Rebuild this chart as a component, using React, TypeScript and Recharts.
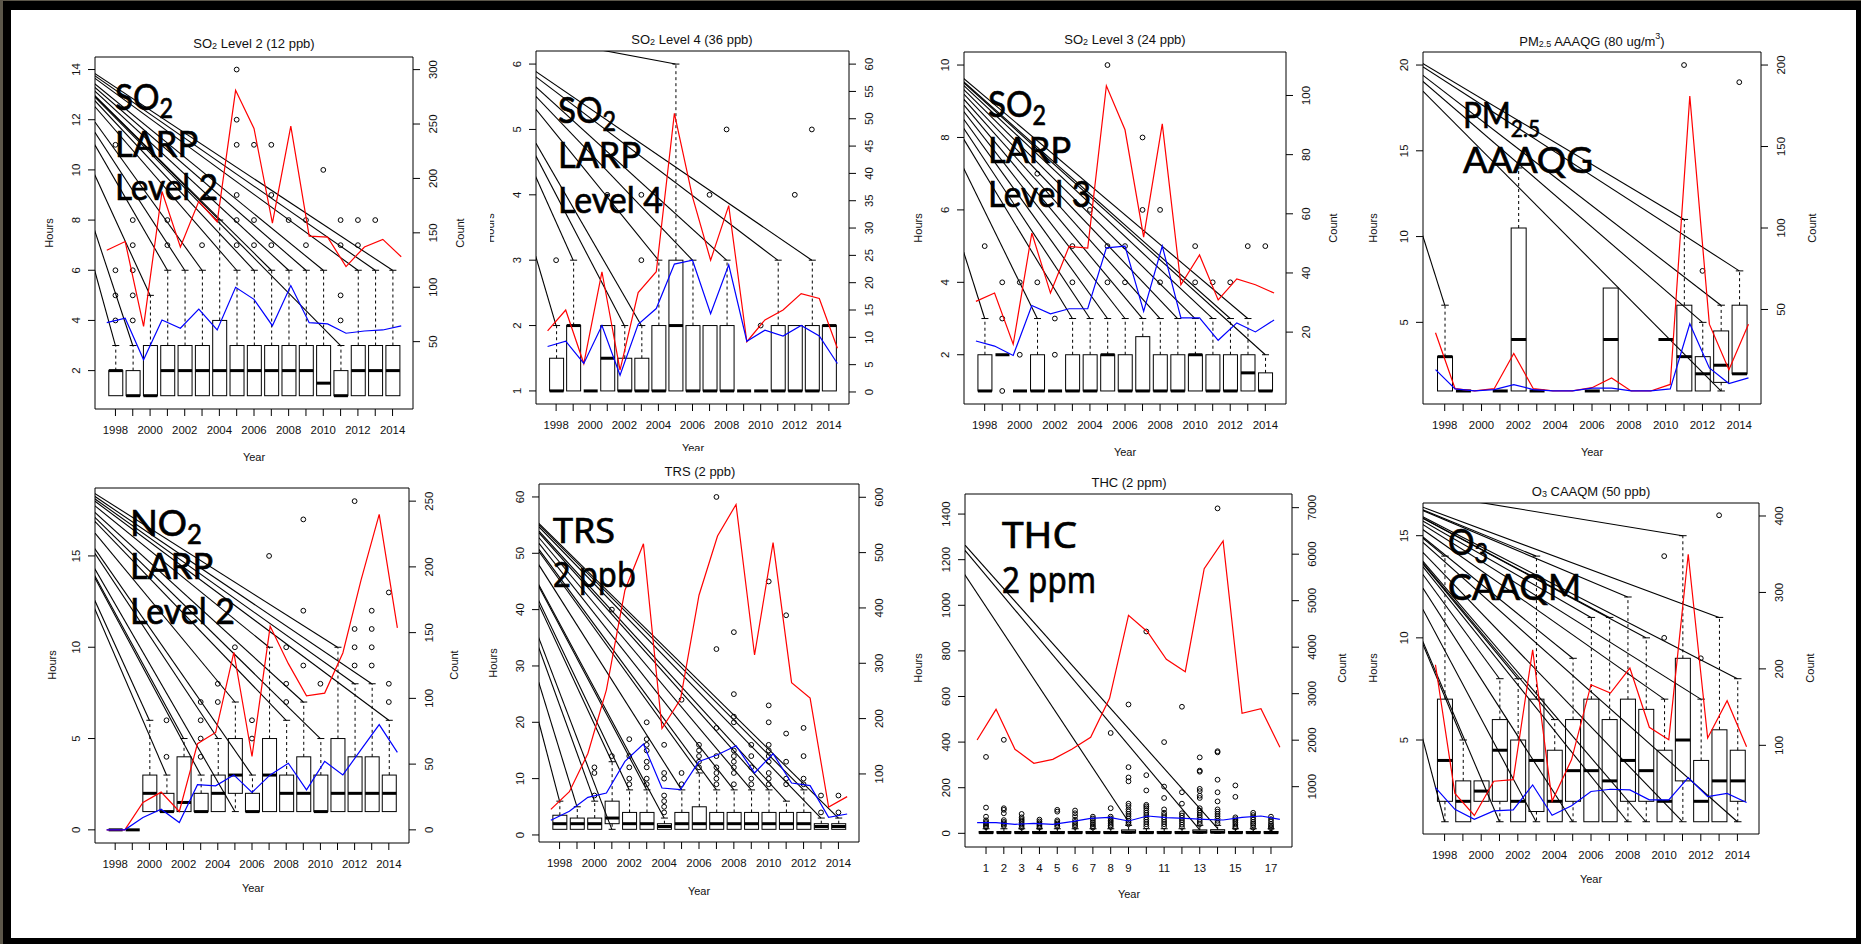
import React from "react";
import { ComposedChart, Bar, Scatter, XAxis, YAxis, ReferenceLine, ReferenceArea } from "recharts";

// ---- shared categories ----
const years = [1998, 1999, 2000, 2001, 2002, 2003, 2004, 2005, 2006, 2007, 2008, 2009, 2010, 2011, 2012, 2013, 2014];
const yearLabels = [1998, 2000, 2002, 2004, 2006, 2008, 2010, 2012, 2014];
const thcSlots = [1, 2, 3, 4, 5, 6, 7, 8, 9, 10, 11, 12, 13, 14, 15, 16, 17];
const thcLabels = [1, 2, 3, 4, 5, 6, 7, 8, 9, 11, 13, 15, 17];
const lineSlots = [1, 2, 3, 4, 5, 6, 7, 8, 9, 10, 11, 12, 13, 14, 15, 16, 17];

// box = [low whisker, q1, median, q3, high whisker]
// ---- SO2 Level 2 ----
const so2l2Box = [[1, 1, 2, 2, 3], [1, 1, 1, 2, 3], [1, 1, 1, 3, 5], [1, 1, 2, 3, 6], [1, 1, 2, 3, 6], [1, 1, 2, 3, 6], [1, 1, 2, 4, 8], [1, 1, 2, 3, 6], [1, 1, 2, 3, 6], [1, 1, 2, 3, 6], [1, 1, 2, 3, 6], [1, 1, 2, 3, 6], [1, 1, 1.5, 3, 6], [1, 1, 1, 2, 3], [1, 1, 2, 3, 6], [1, 1, 2, 3, 6], [1, 1, 2, 3, 6]];
const so2l2Out = [[4, 5, 6, 11], [4, 5, 6, 7, 8], [], [7, 8], [], [7], [], [7, 8, 9, 11, 12, 14], [7, 8, 11], [7, 9, 11], [8], [7, 8], [10], [4, 5, 7, 8], [7, 8], [8], []];
const so2l2Count = [134, 142, 64, 188, 137, 179, 160, 281, 246, 159, 248, 147, 146, 119, 137, 144, 128];
const so2l2Mean = [3.91, 4.09, 2.43, 4.02, 3.69, 4.45, 3.62, 5.32, 4.84, 3.79, 5.39, 3.91, 3.86, 3.49, 3.58, 3.62, 3.78];
const so2l2Origin = [1992.95, 15.6];
const so2l2Targets = [[1998, 3], [1999, 3], [2000, 5], [2001, 6], [2002, 6], [2003, 6], [2004, 8], [2005, 6], [2006, 6], [2007, 6], [2008, 6], [2009, 6], [2010, 6], [2011, 3], [2012, 6], [2013, 6], [2014, 6]];

// ---- SO2 Level 4 ----
const so2l4Box = [[1, 1, 1, 1.5, 2], [1, 1, 2, 2, 3], [1, 1, 1, 1, 1], [1, 1, 1.5, 2, 2], [1, 1, 1, 1.5, 2], [1, 1, 1, 1.5, 2], [1, 1, 1, 2, 3], [1, 1, 2, 3, 6], [1, 1, 1, 2, 3], [1, 1, 1, 2, 2], [1, 1, 1, 2, 3], [1, 1, 1, 1, 1], [1, 1, 1, 1, 1], [1, 1, 1, 2, 3], [1, 1, 1, 2, 2], [1, 1, 1, 2, 3], [1, 1, 2, 2, 2]];
const so2l4Out = [[3], [], [], [4], [], [3, 4], [], [], [], [4], [5], [], [2], [], [4], [5], []];
const so2l4Count = [11.2, 15, 5.2, 22, 4, 18.2, 22, 51, 35.7, 24.1, 34.1, 9.2, 13.2, 15, 18, 17.1, 8];
const so2l4Mean = [1.68, 1.76, 1.42, 2.0, 1.24, 2.02, 2.26, 2.94, 3.0, 2.18, 2.93, 1.76, 1.93, 1.84, 2.0, 1.84, 1.42];
const so2l4Origin = [1992.8, 6.6];
const so2l4Targets = [[1998, 2], [1999, 3], [2002, 2], [2003, 2], [2004, 3], [2005, 6], [2006, 3], [2008, 3], [2011, 3], [2013, 3]];

// ---- SO2 Level 3 ----
const so2l3Box = [[1, 1, 1, 2, 3], [2, 2, 2, 2, 2], [1, 1, 1, 1, 1], [1, 1, 1, 2, 3], [1, 1, 1, 1, 1], [1, 1, 1, 2, 3], [1, 1, 1, 2, 3], [1, 1, 2, 2, 3], [1, 1, 1, 2, 3], [1, 1, 1, 2.5, 3], [1, 1, 1, 2, 3], [1, 1, 1, 2, 3], [1, 1, 2, 2, 3], [1, 1, 1, 2, 3], [1, 1, 1, 2, 3], [1, 1, 1.5, 2, 3], [1, 1, 1, 1.5, 2]];
const so2l3Out = [[5], [1, 3, 4], [2, 4], [4, 7], [2, 3], [4, 5], [6], [4, 5, 10], [4, 5], [6, 8], [4, 6], [], [4, 5], [4], [4], [5], [5]];
const so2l3Count = [30.4, 33.2, 15.9, 53.5, 33.2, 49, 48.4, 103.3, 88.4, 52.1, 90.4, 36, 46.1, 30.9, 38, 36, 33.2];
const so2l3Mean = [2.38, 2.24, 1.98, 3.36, 3.13, 3.27, 3.27, 4.95, 5.0, 3.2, 5.0, 3.02, 3.02, 2.4, 2.88, 2.63, 2.96];
const so2l3Origin = [1992.52, 11.38];
const so2l3Targets = [[1998, 3], [2001, 3], [2003, 3], [2004, 3], [2005, 3], [2006, 3], [2007, 3], [2008, 3], [2009, 3], [2010, 3], [2011, 3], [2012, 3], [2013, 3], [2014, 2]];

// ---- PM2.5 AAAQG ----
const pm25Box = [[1, 1, 3, 3, 6], [1, 1, 1, 1, 1], null, [1, 1, 1, 1, 1], [1, 1, 4, 10.5, 14], [1, 1, 1, 1, 1], null, null, [1, 1, 1, 1, 1], [1, 1, 4, 7, 7], null, null, [4, 4, 4, 4, 4], [1, 1, 3, 6, 11], [1, 1, 2, 3, 5], [1, 1.5, 2.5, 4.5, 6], [2, 2, 2, 6, 8]];
const pm25Out = [[], [], [], [], [], [], [], [], [], [], [], [], [], [20], [8], [], [19]];
const pm25Count = [35.7, 1.4, 0, 1.4, 23, 1.4, 0, 0, 2, 8, 0, 0, 4, 181, 41, 13, 41];
const pm25Mean = [2.24, 1.12, 1.0, 1.08, 1.37, 1.08, 1.0, 1.0, 1.17, 1.17, 1.0, 1.0, 1.12, 4.92, 2.34, 1.43, 1.76];
const pm25Origin = [1993.15, 22.44];
const pm25Targets = [[1998, 6], [2011, 11], [2012, 5], [2013, 6], [2014, 8], [2013, 1]];

// ---- NO2 LARP Level 2 ----
const no2Box = [[0, 0, 0, 0, 0], [0, 0, 0, 0, 0], [1, 1, 2, 3, 6], [1, 1, 1, 2, 3], [1, 1, 1.5, 4, 5], [1, 1, 1, 2, 3], [1, 1, 2, 3, 5], [1, 2, 3, 5, 7], [1, 1, 1, 2, 3], [1, 1, 3, 5, 10], [1, 1, 2, 3, 6], [1, 1, 2, 4, 7], [1, 1, 1, 3, 5], [1, 1, 2, 5, 10], [1, 1, 2, 4, 8], [1, 1, 2, 4, 8], [1, 1, 2, 3, 6]];
const no2Out = [[], [], [], [4, 6], [], [4, 5, 6, 7], [7, 8], [10], [5, 6], [15], [7, 8, 10], [9, 12, 17], [8], [], [9, 10, 11, 18], [9, 10, 11, 12], [7, 8, 13]];
const no2Count = [0, 0, 20.8, 28.7, 14, 65.5, 74.1, 135, 55.8, 154.8, 126.4, 102, 104, 134.5, 190, 240, 153.6];
const no2Mean = [0, 0, 0.68, 1.13, 0.4, 2.47, 2.41, 3.01, 2.05, 3.01, 3.65, 2.19, 3.75, 3.01, 4.39, 5.76, 4.24];
const no2Origin = [1992.8, 20.8];
const no2Targets = [[2000, 6], [2001, 3], [2002, 5], [2003, 3], [2004, 5], [2005, 7], [2005, 1], [2006, 3], [2007, 10], [2008, 6], [2009, 7], [2010, 5], [2011, 10], [2012, 8], [2013, 8], [2014, 6]];

// ---- TRS 2 ppb ----
const trsBox = [[1, 1, 2, 3.5, 6], [1, 1, 2, 3, 5], [1, 1, 2, 3, 6], [1, 2, 3, 6, 13], [1, 1, 2, 4, 8], [1, 1, 2, 4, 8], [1, 1, 1.5, 2, 3], [1, 1, 2, 4, 8], [1, 1, 2, 5, 11], [1, 1, 2, 4, 8], [1, 1, 2, 4, 8], [1, 1, 2, 4, 8], [1, 1, 2, 4, 8], [1, 1, 2, 4, 6], [1, 1, 2, 4, 8], [1, 1, 1.5, 2, 3], [1, 1, 1.5, 2, 3]];
const trsOut = [[], [], [7, 11, 12], [14, 40], [9, 10, 12, 14, 17], [9, 10, 12, 13, 15, 16, 17, 20], [4, 5, 6, 7, 10, 11, 16], [9, 11, 24], [12, 13, 14, 15, 16], [9, 10, 11, 12, 14, 19, 33, 60], [9, 11, 12, 13, 14, 15, 20, 21, 25, 36], [9, 10, 12, 14, 16], [9, 10, 11, 13, 14, 15, 16, 20, 23, 45], [9, 10, 13, 18, 39], [9, 10, 14, 19], [4, 7], [4, 7]];
const trsCount = [36, 68, 137, 252, 432, 516, 182, 235, 423, 530, 587, 315, 518, 265, 237, 40, 59];
const trsMean = [2.6, 4.2, 6.68, 7.45, 13.06, 16.13, 8.33, 8.04, 13.06, 14.24, 15.84, 11.0, 14.42, 9.22, 8.75, 3.13, 3.72];
const trsOrigin = [1992.78, 67.6];
const trsTargets = [[1998, 6], [1999, 5], [2000, 6], [2001, 13], [2001, 1], [2002, 8], [2003, 8], [2004, 3], [2005, 8], [2006, 11], [2007, 8], [2008, 8], [2009, 8], [2010, 8], [2011, 6], [2012, 8], [2013, 3], [2014, 3]];

// ---- THC 2 ppm ----
const thcBox = [[0, 1, 3, 8, 20], [0, 1, 3, 8, 20], [0, 1, 3, 8, 20], [0, 1, 3, 8, 20], [0, 1, 3, 8, 20], [0, 1, 3, 8, 20], [0, 1, 3, 8, 20], [0, 1, 3, 8, 20], [0, 2, 5, 15, 35], [0, 1, 3, 8, 20], [0, 1, 3, 8, 20], [0, 1, 3, 8, 20], [0, 2, 5, 15, 35], [0, 2, 5, 16, 35], [0, 1, 3, 8, 20], [0, 1, 3, 8, 20], [0, 1, 3, 8, 20]];
const thcOut = [[27, 32, 38, 44, 50, 57, 73, 113, 335], [32, 38, 44, 50, 58, 88, 103, 110, 410], [25, 33, 40, 48, 55, 62, 70, 85], [25, 32, 38, 45, 52, 60], [29, 36, 43, 50, 57, 95, 103], [28, 35, 42, 50, 60, 75, 88, 100], [25, 32, 40, 48, 57, 65, 73], [28, 35, 42, 50, 57, 65, 73, 110, 440], [40, 48, 55, 65, 75, 85, 95, 105, 120, 130, 228, 245, 290, 565], [30, 40, 50, 60, 70, 80, 90, 100, 110, 118, 125, 188, 255, 885], [30, 40, 50, 60, 70, 80, 90, 105, 155, 205, 400], [28, 38, 48, 58, 68, 78, 88, 130, 180, 555], [40, 50, 60, 70, 80, 90, 100, 110, 155, 165, 185, 195, 270, 275, 333], [45, 55, 65, 75, 85, 95, 105, 140, 180, 235, 355, 360, 1425], [25, 32, 40, 48, 55, 62, 70, 160, 210], [25, 35, 42, 50, 60, 70, 80, 90], [22, 28, 35, 42, 52, 62, 73]];
const thcCount = [2004, 2663, 1803, 1502, 1588, 1803, 2061, 2900, 4685, 4333, 3738, 3473, 5688, 6283, 2577, 2677, 1846];
const thcMean = [46.8, 46.8, 39.5, 43.8, 39.5, 51.1, 65.8, 70.1, 54.1, 76, 68.7, 65.8, 61.4, 58.5, 70.1, 76, 61.4];
const thcOrigin = [-4.5, 1642];
const thcTargets = [[9, 51], [13, 15], [14, 22]];

// ---- O3 CAAQM ----
const o3Box = [[1, 2, 4, 7, 14], [1, 1, 2, 3, 5], [2, 2, 2.5, 3, 3], [1, 2, 4.5, 6, 8], [1, 1, 2, 5, 8], [1, 1.5, 4, 7, 14], [1, 1, 2, 4.5, 6], [1, 2, 3.5, 6, 9], [1, 1, 3.5, 7, 11], [1, 1, 3, 6, 11], [1, 2, 4, 7, 12], [1, 2, 3.5, 6.5, 10], [1, 1, 2, 4.5, 7], [1, 3, 5, 9, 15], [1, 1, 2, 4, 7], [1, 1, 3, 5.5, 11], [1, 2, 3, 4.5, 8]];
const o3Out = [[], [], [], [], [], [], [], [], [], [], [], [], [10, 14], [], [9], [16], []];
const o3Count = [205.4, 37, 8.2, 53, 55.2, 225, 27, 81.3, 179.3, 168.4, 201, 123.6, 107.4, 350, 109.6, 158.4, 98];
const o3Mean = [2.67, 1.61, 1.12, 1.53, 1.58, 2.8, 1.32, 1.78, 2.48, 2.59, 2.56, 2.07, 2.07, 3.16, 2.23, 2.39, 1.94];
const o3Origin = [1993.1, 17.63];
const o3Targets = [[1998, 14], [1998, 1], [1999, 5], [2001, 8], [2001, 1], [2002, 8], [2003, 14], [2003, 1], [2004, 6], [2005, 9], [2005, 1], [2006, 11], [2007, 11], [2008, 12], [2008, 1], [2009, 10], [2009, 1], [2010, 7], [2011, 15], [2011, 1], [2012, 7], [2013, 11], [2014, 8], [2014, 1]];

// ---- layout ----
const FONT = "'Liberation Sans', Arial, Helvetica, sans-serif";
const GILL = "Lato, 'Noto Sans', sans-serif";
const CAL = "'Noto Sans', 'Open Sans', sans-serif";
const L = 60, R = 60, T = 30, B = 40;
const yearDomain = [1996.82, 2015.18];
const slotDomain = [-0.18, 18.18];

type Lbl = { text: React.ReactNode; x: number; y: number; rot?: boolean; size?: number };
type Big = { lines: React.ReactNode[]; widths: number[]; x: number; base: number[]; size: number; font: string };
interface PanelCfg {
  clip: number[]; plot: number[];
  xs: number[]; xLabels: number[]; xDomain: number[];
  yDomain: number[]; yTicks: number[]; cDomain: number[]; cTicks: number[];
  box: (number[] | null)[]; out: number[][]; count: number[]; mean: number[];
  origin: number[]; targets: number[][];
  labels: Lbl[]; big: Big;
}

const sub = (s: string, size = 9, dy = 3) => <tspan fontSize={size} dy={dy}>{s}</tspan>;

const panels: PanelCfg[] = [
  {
    clip: [11, 10, 475, 455], plot: [95, 57, 318, 352],
    xs: years, xLabels: yearLabels, xDomain: yearDomain,
    yDomain: [0.47, 14.5], yTicks: [2, 4, 6, 8, 10, 12, 14], cDomain: [-11.9, 311.6], cTicks: [50, 100, 150, 200, 250, 300],
    box: so2l2Box, out: so2l2Out, count: so2l2Count, mean: so2l2Mean, origin: so2l2Origin, targets: so2l2Targets,
    labels: [
      { text: <>SO{sub("2")}<tspan dy={-3}> Level 2 (12 ppb)</tspan></>, x: 254, y: 43, size: 13 },
      { text: "Hours", x: 49, y: 233, rot: true }, { text: "Count", x: 460, y: 233, rot: true }, { text: "Year", x: 254, y: 457 },
    ],
    big: { lines: [<>SO{sub("2", 26, 8)}</>, "LARP", "Level 2"], widths: [58, 83, 103], x: 115, base: [110, 157, 200], size: 37, font: GILL },
  },
  {
    clip: [490, 10, 418, 441], plot: [536, 51, 313, 353],
    xs: years, xLabels: yearLabels, xDomain: yearDomain,
    yDomain: [0.8, 6.2], yTicks: [1, 2, 3, 4, 5, 6], cDomain: [-2.2, 62.4], cTicks: [0, 5, 10, 15, 20, 25, 30, 35, 40, 45, 50, 55, 60],
    box: so2l4Box, out: so2l4Out, count: so2l4Count, mean: so2l4Mean, origin: so2l4Origin, targets: so2l4Targets,
    labels: [
      { text: <>SO{sub("2")}<tspan dy={-3}> Level 4 (36 ppb)</tspan></>, x: 692, y: 39, size: 13 },
      { text: "Hours", x: 490, y: 228, rot: true }, { text: "Year", x: 693, y: 448 },
    ],
    big: { lines: [<>SO{sub("2", 26, 8)}</>, "LARP", "Level 4"], widths: [58, 83, 105], x: 558, base: [123, 168, 213], size: 37, font: GILL },
  },
  {
    clip: [908, 10, 454, 452], plot: [964, 52, 322, 352],
    xs: years, xLabels: yearLabels, xDomain: yearDomain,
    yDomain: [0.64, 10.36], yTicks: [2, 4, 6, 8, 10], cDomain: [-4.3, 114.7], cTicks: [20, 40, 60, 80, 100],
    box: so2l3Box, out: so2l3Out, count: so2l3Count, mean: so2l3Mean, origin: so2l3Origin, targets: so2l3Targets,
    labels: [
      { text: <>SO{sub("2")}<tspan dy={-3}> Level 3 (24 ppb)</tspan></>, x: 1125, y: 39, size: 13 },
      { text: "Hours", x: 918, y: 228, rot: true }, { text: "Count", x: 1333, y: 228, rot: true }, { text: "Year", x: 1125, y: 452 },
    ],
    big: { lines: [<>SO{sub("2", 26, 8)}</>, "LARP", "Level 3"], widths: [58, 83, 103], x: 988, base: [117, 163, 207], size: 37, font: GILL },
  },
  {
    clip: [1362, 10, 494, 452], plot: [1423, 52, 338, 352],
    xs: years, xLabels: yearLabels, xDomain: yearDomain,
    yDomain: [0.24, 20.76], yTicks: [5, 10, 15, 20], cDomain: [-8, 208], cTicks: [50, 100, 150, 200],
    box: pm25Box, out: pm25Out, count: pm25Count, mean: pm25Mean, origin: pm25Origin, targets: pm25Targets,
    labels: [
      { text: <>PM{sub("2.5")}<tspan dy={-3}> AAAQG (80 ug/m</tspan><tspan fontSize={9} dy={-5}>3</tspan><tspan dy={5}>)</tspan></>, x: 1592, y: 41, size: 13 },
      { text: "Hours", x: 1373, y: 228, rot: true }, { text: "Count", x: 1812, y: 228, rot: true }, { text: "Year", x: 1592, y: 452 },
    ],
    big: { lines: [<>PM{sub("2.5", 24, 9)}</>, "AAAQG"], widths: [77, 130], x: 1463, base: [128, 173], size: 36, font: GILL },
  },
  {
    clip: [11, 465, 475, 473], plot: [95, 488, 314, 355],
    xs: years, xLabels: yearLabels, xDomain: yearDomain,
    yDomain: [-0.72, 18.72], yTicks: [0, 5, 10, 15], cDomain: [-10, 260], cTicks: [0, 50, 100, 150, 200, 250],
    box: no2Box, out: no2Out, count: no2Count, mean: no2Mean, origin: no2Origin, targets: no2Targets,
    labels: [
      { text: "Hours", x: 52, y: 665, rot: true }, { text: "Count", x: 454, y: 665, rot: true }, { text: "Year", x: 253, y: 888 },
    ],
    big: { lines: [<>NO{sub("2", 26, 8)}</>, "LARP", "Level 2"], widths: [72, 83, 105], x: 130, base: [536, 579, 624], size: 37, font: GILL },
  },
  {
    clip: [486, 451, 422, 487], plot: [539, 484, 320, 358],
    xs: years, xLabels: yearLabels, xDomain: yearDomain,
    yDomain: [-1.25, 62.3], yTicks: [0, 10, 20, 30, 40, 50, 60], cDomain: [-23, 624], cTicks: [100, 200, 300, 400, 500, 600],
    box: trsBox, out: trsOut, count: trsCount, mean: trsMean, origin: trsOrigin, targets: trsTargets,
    labels: [
      { text: "TRS (2 ppb)", x: 700, y: 471, size: 13 },
      { text: "Hours", x: 493, y: 663, rot: true }, { text: "Year", x: 699, y: 891 },
    ],
    big: { lines: ["TRS", "2 ppb"], widths: [62, 83], x: 553, base: [543, 587], size: 35, font: CAL },
  },
  {
    clip: [908, 462, 454, 476], plot: [965, 494, 327, 353],
    xs: thcSlots, xLabels: thcLabels, xDomain: slotDomain,
    yDomain: [-60, 1488], yTicks: [0, 200, 400, 600, 800, 1000, 1200, 1400], cDomain: [-297, 7294], cTicks: [1000, 2000, 3000, 4000, 5000, 6000, 7000],
    box: thcBox, out: thcOut, count: thcCount, mean: thcMean, origin: thcOrigin, targets: thcTargets,
    labels: [
      { text: "THC (2 ppm)", x: 1129, y: 482, size: 13 },
      { text: "Hours", x: 918, y: 668, rot: true }, { text: "Count", x: 1342, y: 668, rot: true }, { text: "Year", x: 1129, y: 894 },
    ],
    big: { lines: ["THC", "2 ppm"], widths: [75, 94], x: 1002, base: [548, 593], size: 36, font: CAL },
  },
  {
    clip: [1362, 462, 494, 476], plot: [1423, 503, 336, 331],
    xs: years, xLabels: yearLabels, xDomain: yearDomain,
    yDomain: [0.4, 16.6], yTicks: [5, 10, 15], cDomain: [-16, 417], cTicks: [100, 200, 300, 400],
    box: o3Box, out: o3Out, count: o3Count, mean: o3Mean, origin: o3Origin, targets: o3Targets,
    labels: [
      { text: <>O{sub("3")}<tspan dy={-3}> CAAQM (50 ppb)</tspan></>, x: 1591, y: 491, size: 13 },
      { text: "Hours", x: 1373, y: 668, rot: true }, { text: "Count", x: 1810, y: 668, rot: true }, { text: "Year", x: 1591, y: 879 },
    ],
    big: { lines: [<>O{sub("3", 26, 8)}</>, "CAAQM"], widths: [40, 133], x: 1448, base: [555, 600], size: 37, font: GILL },
  },
];

function BoxShape(props: any) {
  const { x, y, width, height, payload } = props;
  const b = payload && payload.box;
  if (!b || !isFinite(y)) return <g />;
  const [lo, q1, med, q3, hi] = b;
  const top = Math.min(y, y + (height || 0));
  const bot = Math.max(y, y + (height || 0));
  const py = (v: number) => (hi === lo ? top : bot - ((v - lo) / (hi - lo)) * (bot - top));
  const cx = x + width / 2;
  const cap = width / 4;
  return (
    <g>
      {hi > q3 && <line x1={cx} x2={cx} y1={py(q3)} y2={py(hi)} stroke="#000" strokeDasharray="3 3" />}
      {hi > q3 && <line x1={cx - cap} x2={cx + cap} y1={py(hi)} y2={py(hi)} stroke="#000" />}
      {lo < q1 && <line x1={cx} x2={cx} y1={py(q1)} y2={py(lo)} stroke="#000" strokeDasharray="3 3" />}
      {lo < q1 && <line x1={cx - cap} x2={cx + cap} y1={py(lo)} y2={py(lo)} stroke="#000" />}
      {q3 > q1 && <rect x={x} y={py(q3)} width={width} height={py(q1) - py(q3)} fill="none" stroke="#000" />}
      <line x1={x} x2={x + width} y1={py(med)} y2={py(med)} stroke="#000" strokeWidth={3} />
    </g>
  );
}

const xTick = (labels: number[]) => (p: any) =>
  labels.includes(p.payload.value) ? (
    <text x={p.x} y={p.y + 18} textAnchor="middle" fontSize={11.4} fontFamily={FONT} fill="#111">{p.payload.value}</text>
  ) : <g />;

const leftTick = (p: any) => (
  <text transform={`translate(${p.x - 8},${p.y}) rotate(-90)`} textAnchor="middle" fontSize={11.4} fontFamily={FONT} fill="#111">{p.payload.value}</text>
);
const rightTick = (p: any) => (
  <text transform={`translate(${p.x + 17},${p.y}) rotate(-90)`} textAnchor="middle" fontSize={11.4} fontFamily={FONT} fill="#111">{p.payload.value}</text>
);

function Panel({ cfg }: { cfg: PanelCfg }) {
  const [cx, cy, cw, ch] = cfg.clip;
  const [px, py, pw, ph] = cfg.plot;
  const rows = cfg.xs.map((x, k) => {
    const b = cfg.box[k];
    return { x, box: b, range: b ? [b[0], b[4]] : null };
  });
  const outPts = cfg.xs.flatMap((x, k) => cfg.out[k].map((y) => ({ x, y })));
  const red = cfg.count.map((v, k) => ({ i: lineSlots[k], v }));
  const blue = cfg.mean.map((y, k) => ({ i: lineSlots[k], y }));
  const barSize = Math.round((0.8 * pw) / (cfg.xDomain[1] - cfg.xDomain[0]));
  return (
    <div style={{ position: "absolute", left: cx, top: cy, width: cw, height: ch, overflow: "hidden" }}>
      <div style={{ position: "absolute", left: px - L - cx, top: py - T - cy }}>
        <ComposedChart width={pw + L + R} height={ph + T + B} data={rows} margin={{ top: T, right: 0, bottom: 0, left: 0 }}>
          <XAxis xAxisId="x" type="number" dataKey="x" domain={cfg.xDomain} ticks={cfg.xs} interval={0} allowDataOverflow
            height={B} tickSize={7} tickMargin={0} axisLine={false} tickLine={{ stroke: "#000" }} tick={xTick(cfg.xLabels)} />
          <XAxis xAxisId="ln" type="number" dataKey="i" domain={[0.36, 17.64]} allowDataOverflow hide orientation="top" height={0} />
          <YAxis yAxisId="h" orientation="left" type="number" dataKey="y" domain={cfg.yDomain} ticks={cfg.yTicks} interval={0}
            allowDataOverflow width={L} tickSize={7} tickMargin={0} axisLine={false} tickLine={{ stroke: "#000" }} tick={leftTick} />
          <YAxis yAxisId="c" orientation="right" type="number" dataKey="v" domain={cfg.cDomain} ticks={cfg.cTicks} interval={0}
            allowDataOverflow width={R} tickSize={7} tickMargin={0} axisLine={false} tickLine={{ stroke: "#000" }} tick={rightTick} />
          <ReferenceArea xAxisId="x" yAxisId="h" x1={cfg.xDomain[0]} x2={cfg.xDomain[1]} y1={cfg.yDomain[0]} y2={cfg.yDomain[1]}
            fill="none" fillOpacity={0} stroke="#000" strokeWidth={1} ifOverflow="visible" />
          <Bar xAxisId="x" yAxisId="h" dataKey="range" barSize={barSize} shape={<BoxShape />} isAnimationActive={false} />
          <Scatter xAxisId="x" yAxisId="h" data={outPts} isAnimationActive={false}
            shape={(p: any) => <circle cx={p.cx} cy={p.cy} r={2.4} fill="none" stroke="#000" strokeWidth={1} />} />
          {cfg.targets.map((t, k) => (
            <ReferenceLine key={k} xAxisId="x" yAxisId="h" ifOverflow="hidden" stroke="#000" strokeWidth={1.1}
              segment={[{ x: cfg.origin[0], y: cfg.origin[1] }, { x: t[0], y: t[1] }]} />
          ))}
          <Scatter xAxisId="ln" yAxisId="c" data={red} isAnimationActive={false} line={{ stroke: "#ff0000", strokeWidth: 1.2 }} shape={() => <g />} />
          <Scatter xAxisId="ln" yAxisId="h" data={blue} isAnimationActive={false} line={{ stroke: "#0000ff", strokeWidth: 1.2 }} shape={() => <g />} />
        </ComposedChart>
      </div>
      <svg width={cw} height={ch} style={{ position: "absolute", left: 0, top: 0, pointerEvents: "none" }}>
        <g transform={`translate(${-cx},${-cy})`}>
          {cfg.labels.map((l, k) =>
            l.rot ? (
              <text key={k} transform={`translate(${l.x},${l.y}) rotate(-90)`} textAnchor="middle" dominantBaseline="central"
                fontSize={l.size ?? 11} fontFamily={FONT} fill="#111">{l.text}</text>
            ) : (
              <text key={k} x={l.x} y={l.y} textAnchor="middle" dominantBaseline="central" fontSize={l.size ?? 11} fontFamily={FONT} fill="#111">{l.text}</text>
            )
          )}
          {cfg.big.lines.map((ln, k) => (
            <text key={"b" + k} x={cfg.big.x} y={cfg.big.base[k]} fontSize={cfg.big.size} fontFamily={cfg.big.font} fill="#000"
              stroke="#000" strokeWidth={0.7} textLength={cfg.big.widths[k]} lengthAdjust="spacingAndGlyphs">{ln}</text>
          ))}
        </g>
      </svg>
    </div>
  );
}

export default function App() {
  return (
    <div style={{ position: "absolute", left: 0, top: 0, width: 1861, height: 944, background: "#5c574a", overflow: "hidden" }}>
      <div style={{ position: "absolute", left: 3, top: 1, width: 1858, height: 943, background: "#000" }} />
      <div style={{ position: "absolute", left: 11, top: 10, width: 1845, height: 928, background: "#fff" }} />
      {panels.map((p, k) => <Panel key={k} cfg={p} />)}
    </div>
  );
}
